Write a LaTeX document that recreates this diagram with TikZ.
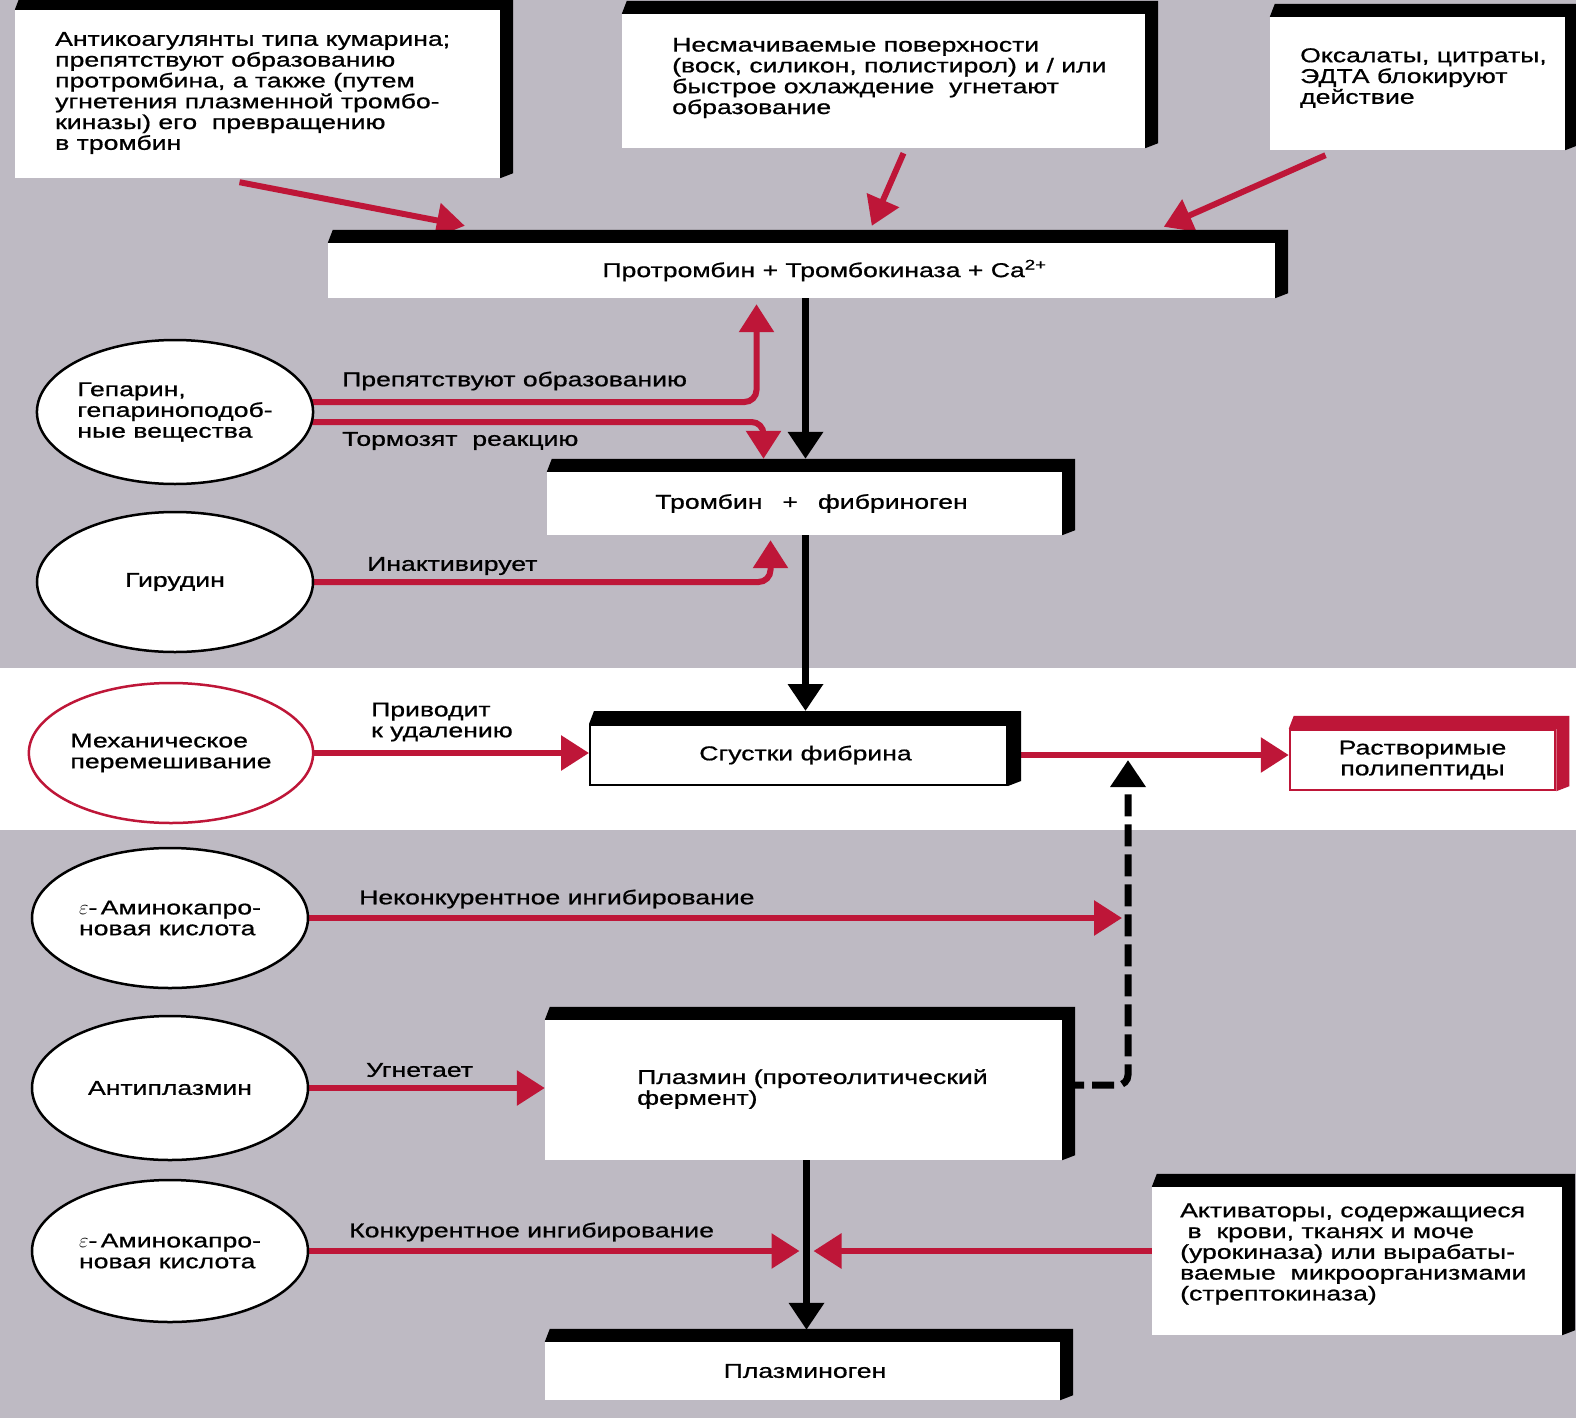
\documentclass[tikz,border=0pt]{standalone}
\usepackage{fontspec}
\setmainfont{Liberation Sans}[FakeStretch=1.33,FakeBold=0.8]
\usetikzlibrary{arrows.meta,calc,shapes.geometric}
\pgfdeclarelayer{bgl}
\pgfdeclarelayer{lines}
\pgfsetlayers{bgl,lines,main}
\definecolor{crim}{RGB}{190,22,56}
\definecolor{bgg}{RGB}{190,186,195}
\newcommand\boxshade[2][black]{%
  \fill[#1] (#2.north west) -- ++(5pt,13pt) -- ([shift={(13pt,13pt)}]#2.north east)
    -- ([shift={(13pt,5pt)}]#2.south east) -- (#2.south east) -- (#2.north east) -- cycle;}
\tikzset{
  txt/.style={font=\fontsize{20}{20.8}\selectfont},
  wbox/.style={rectangle, fill=white, draw=none, inner sep=0pt, txt, align=center},
  ell/.style={ellipse, draw=black, line width=2.5pt, fill=white, inner sep=0pt,
    minimum width=276pt, minimum height=142pt, txt, align=left},
  lbl/.style={txt, anchor=west, inner sep=0pt, align=left},
  redarr/.style={draw=crim, line width=6pt, -{Triangle[length=28pt,width=34pt]}},
  blkarr/.style={draw=black, line width=7pt, -{Triangle[length=27pt,width=34pt]}},
}
\begin{document}
\begin{tikzpicture}[x=1pt,y=-1pt]
\useasboundingbox (0,0) rectangle (1576,1418);
\begin{pgfonlayer}{bgl}
  \fill[bgg] (0,0) rectangle (1576,1418);
  \fill[white] (0,668) rectangle (1576,830);
\end{pgfonlayer}

% boxes
\node[wbox, minimum width=485pt, minimum height=168pt] (A) at (257.5,94) {};
\boxshade{A}
\node[lbl] (tA) at (55,93) {Антикоагулянты типа кумарина;\\препятствуют образованию\\протромбина, а также (путем\\угнетения плазменной тромбо-\\киназы) его\ \ превращению\\в тромбин};

\node[wbox, minimum width=523pt, minimum height=134pt] (B) at (883.5,81) {};
\boxshade{B}
\node[lbl] (tB) at (672,78) {Несмачиваемые поверхности\\(воск, силикон, полистирол) и / или\\быстрое охлаждение\ \ угнетают\\образование};

\node[wbox, minimum width=295pt, minimum height=133pt] (C) at (1417.5,83.5) {};
\boxshade{C}
\node[lbl] (tC) at (1300,78) {Оксалаты, цитраты,\\ЭДТА блокируют\\действие};

\node[wbox, minimum width=947pt, minimum height=55pt] (P) at (801.5,270.5) {\hspace*{46pt}Протромбин + Тромбокиназа + Ca\textsuperscript{2+}};
\boxshade{P}

\node[wbox, minimum width=515pt, minimum height=63pt] (T) at (804.5,503.5) {\raisebox{-5pt}{\hspace*{14pt}Тромбин\hspace{1em}+\hspace{1em}фибриноген}};
\boxshade{T}

\node[wbox, draw=black, line width=2pt, minimum width=417pt, minimum height=60pt] (S) at (798.5,755) {\hspace*{14pt}Сгустки фибрина};
\boxshade{S}

\node[wbox, draw=crim, line width=2.5pt, minimum width=265pt, minimum height=60pt] (R) at (1422.5,760) {Растворимые\\полипептиды};
\boxshade[crim]{R}

\node[wbox, minimum width=517pt, minimum height=140pt] (Pl) at (803.5,1090) {};
\boxshade{Pl}
\node[lbl] (tPl) at (637,1089) {Плазмин (протеолитический\\фермент)};

\node[wbox, minimum width=410pt, minimum height=148pt] (Act) at (1357,1261) {};
\boxshade{Act}
\node[lbl] (tAct) at (1180,1254) {Активаторы, содержащиеся\\\ в\ \ крови, тканях и моче\\(урокиназа) или вырабаты-\\ваемые\ \ микроорганизмами\\(стрептокиназа)};

\node[wbox, minimum width=515pt, minimum height=58pt] (Plg) at (802.5,1371) {\hspace*{5pt}Плазминоген};
\boxshade{Plg}

% ellipses
\node[ell, minimum height=144pt] (hep) at (175,412) {Гепарин,\\гепариноподоб-\\ные вещества};
\node[ell, align=center, minimum height=140pt] (gir) at (175,582) {Гирудин};
\node[ell, draw=crim, minimum width=274pt, minimum height=140pt] (mech) at (171,753) {Механическое\\перемешивание};
\node[ell, minimum height=140pt] (e1) at (170,918) {$\varepsilon$-\,Аминокапро-\\новая кислота};
\node[ell, align=center, minimum height=144pt] (ap) at (170,1088) {Антиплазмин};
\node[ell, minimum height=142pt] (e2) at (170,1251) {$\varepsilon$-\,Аминокапро-\\новая кислота};

% labels
\node[lbl] (l1) at (342,381) {Препятствуют образованию};
\node[lbl] (l2) at (342,441) {Тормозят\ \ реакцию};
\node[lbl] (l3) at (367,566) {Инактивирует};
\node[lbl] (l4) at (371,722) {Приводит\\к удалению};
\node[lbl] (l5) at (359,899) {Неконкурентное ингибирование};
\node[lbl] (l6) at (366,1070) {Угнетает};
\node[lbl] (l7) at (349,1232) {Конкурентное ингибирование};

\coordinate (jn) at (1128,760);

\begin{pgfonlayer}{lines}
  \draw[redarr] ([xshift=-18pt,yshift=-4pt]A.south) -- ([xshift=137pt,yshift=17pt]P.north west);
  \draw[redarr] ([xshift=20pt,yshift=-5pt]B.south) -- ([xshift=544pt,yshift=17pt]P.north west);
  \draw[redarr] ([xshift=-92pt,yshift=-5pt]C.south) -- ([xshift=836pt,yshift=16pt]P.north west);
  \draw[redarr, rounded corners=12pt] ([yshift=10pt]hep.center) -| ([xshift=-45pt,yshift=-6pt]P.south);
  \draw[redarr, rounded corners=12pt] ([yshift=-10pt]hep.center) -| ([xshift=-41pt,yshift=13pt]T.north);
  \draw[redarr, rounded corners=12pt] (gir.center) -| ([xshift=-34pt,yshift=-5pt]T.south);
  \draw[blkarr] ([xshift=4pt]P.south) -- ([xshift=1pt,yshift=13pt]T.north);
  \draw[blkarr] ([xshift=1pt]T.south) -- ([xshift=7pt,yshift=13pt]S.north);
  \draw[redarr] (mech.center) -- (mech.center -| S.west);
  \draw[redarr] (S.east) -- (S.east -| R.west);
  \draw[blkarr, dash pattern=on 22pt off 8pt, rounded corners=10pt] ([yshift=5pt]Pl.east) -| (jn);
  \draw[redarr] (e1.center) -- ([xshift=-6pt]e1.center -| jn);
  \draw[redarr] (ap.center) -- (ap.center -| Pl.west);
  \draw[blkarr] ([xshift=3pt]Pl.south) -- ([xshift=4pt,yshift=12pt]Plg.north);
  \draw[redarr] (e2.center) -- ([xshift=-4pt]e2.center -| Pl.south);
  \draw[redarr] ([yshift=10pt]Act.west) -- ([xshift=10pt,yshift=10pt]Act.west -| Pl.south);
\end{pgfonlayer}
\end{tikzpicture}
\end{document}
